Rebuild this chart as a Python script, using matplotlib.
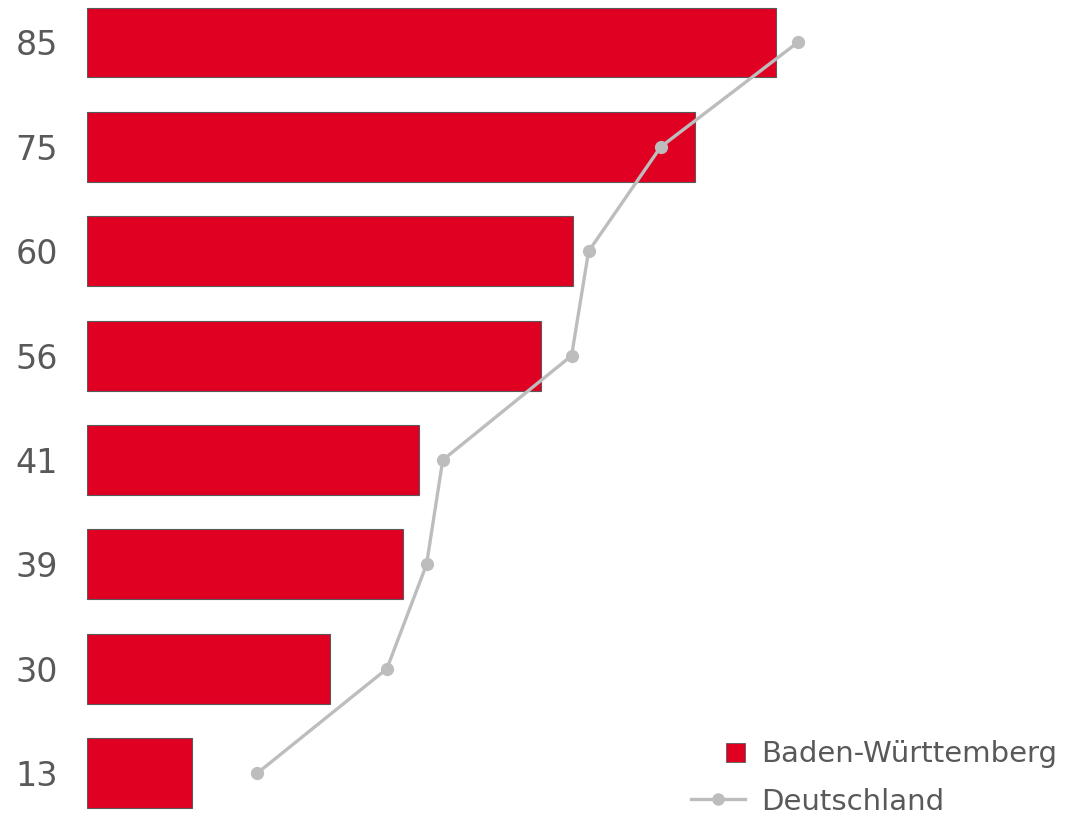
import numpy as np
import matplotlib.pyplot as plt
from matplotlib.lines import Line2D
from matplotlib.patches import Rectangle
from matplotlib.legend_handler import HandlerPatch

# Werte je Kategorie, von oben nach unten
labels = ["85", "75", "60", "56", "41", "39", "30", "13"]
bw_values = [85, 75, 60, 56, 41, 39, 30, 13]
de_values = [87.7, 70.8, 61.9, 59.8, 43.9, 41.9, 37.0, 21.0]

red = "#E00022"
grey = "#BDBDBD"
text_color = "#595959"

plt.rcParams["font.family"] = ["DejaVu Sans"]


def square_right(legend, orig_handle, xdescent, ydescent, width, height, fontsize):
    # kleines Quadrat am rechten Ende des Legendenfeldes
    s = 0.65 * fontsize
    return Rectangle((width - s - xdescent, height / 2 - s / 2 - ydescent), s, s)


fig = plt.figure(figsize=(10.74, 8.15), dpi=100)
ax = fig.add_axes([87 / 1074, 0, 1 - 87 / 1074, 1])

pos = np.arange(len(labels))
ax.barh(pos, bw_values, height=0.67, color=red, edgecolor="#5a5a5a",
        linewidth=0.8, zorder=2)
ax.plot(de_values, pos, color=grey, linewidth=2.4, marker="o",
        markersize=8.5, zorder=3)

ax.set_xlim(0, 121.8)
ax.set_ylim(7.40, -0.407)
ax.set_yticks(pos)
ax.set_yticklabels(labels, fontsize=24, color=text_color)
ax.tick_params(axis="y", length=0, pad=21)
ax.set_xticks([])
for s in ax.spines.values():
    s.set_visible(False)

handles = [
    Rectangle((0, 0), 1, 1, facecolor=red, edgecolor="#5a5a5a", linewidth=0.6),
    Line2D([], [], color=grey, linewidth=2.4, marker="o", markersize=8),
]
fig.legend(handles, ["Baden-Württemberg", "Deutschland"],
           handler_map={Rectangle: HandlerPatch(patch_func=square_right)},
           loc="lower right", bbox_to_anchor=(1.009, -0.033), frameon=False,
           fontsize=21, labelcolor=text_color, handlelength=1.85,
           handletextpad=0.55, labelspacing=0.66)

fig.savefig("out.png", dpi=100)
